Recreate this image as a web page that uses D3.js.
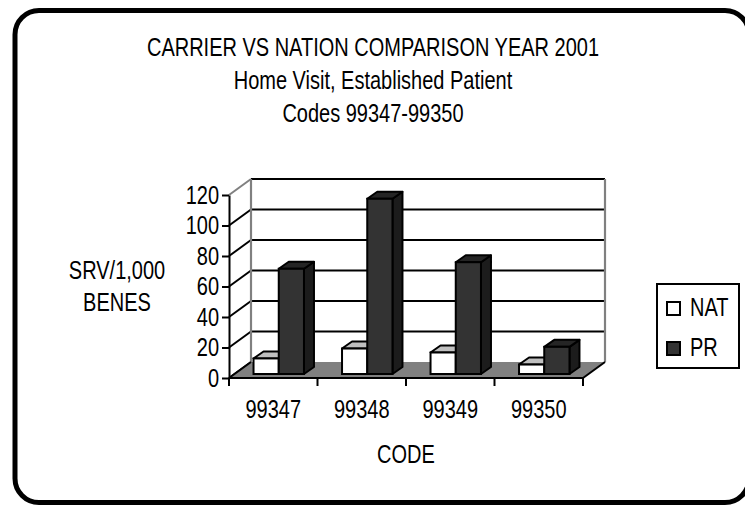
<!DOCTYPE html>
<html>
<head>
<meta charset="utf-8">
<script src="https://cdn.jsdelivr.net/npm/d3@7"></script>
<style>
  body { margin: 0; background: #fff; }
  svg { display: block; }
  text { font-family: "Liberation Sans", Arial, sans-serif; fill: #000; }
</style>
</head>
<body>
<svg id="chart" width="745" height="506"></svg>
<script>
// Chart data
const titleLines = ["CARRIER VS NATION COMPARISON YEAR 2001", "Home Visit, Established Patient", "Codes 99347-99350"];
const categories = ["99347", "99348", "99349", "99350"];
const seriesNames = ["NAT", "PR"];
const natValues = [10.2, 16.7, 14.1, 6.2];
const prValues = [69, 114.9, 73.3, 17.8];
const yTicks = [0, 20, 40, 60, 80, 100, 120];
const yAxisTitle = ["SRV/1,000", "BENES"];
const xAxisTitle = "CODE";

const seriesValues = { NAT: natValues, PR: prValues };
const seriesStyle = {
  NAT: { front: "#ffffff", top: "#c0c0c0", side: "#9a9a9a" },
  PR:  { front: "#333333", top: "#252525", side: "#1c1c1c" }
};

const FONT_SIZE = 25;
// condensed lettering: squeeze text horizontally around its own anchor
const SQUEEZE = 0.8;
function narrow(sel) {
  sel.each(function () {
    const t = d3.select(this);
    const x0 = +t.attr("x") || 0;
    t.attr("x", x0 / SQUEEZE).attr("transform", `scale(${SQUEEZE},1)`);
  });
}

const svg = d3.select("#chart");

// rounded outer frame
svg.append("rect")
  .attr("x", 15).attr("y", 10.5).attr("width", 734).attr("height", 492)
  .attr("rx", 24).attr("ry", 24)
  .attr("fill", "none").attr("stroke", "#000").attr("stroke-width", 5);

// titles
svg.append("g").selectAll("text").data(titleLines).join("text")
  .attr("x", 373).attr("y", (d, i) => 56 + i * 33)
  .attr("text-anchor", "middle").attr("font-size", FONT_SIZE)
  .text(d => d)
  .call(narrow);

// 3D plot geometry: front plane and depth offset to the back wall
const frontLeft = 229, frontRight = 583;
const depthX = 22, depthY = -16;
const x = d3.scaleBand().domain(categories).range([frontLeft, frontRight]);
const y = d3.scaleLinear().domain([0, 120]).range([378, 195]);
const bw = x.bandwidth();
const xs = d3.scaleBand().domain(seriesNames).range([0.215 * bw, 0.785 * bw]);

const plot = svg.append("g");

// back wall
const backL = frontLeft + depthX, backR = frontRight + depthX;
plot.append("rect")
  .attr("x", backL).attr("y", y(120) + depthY)
  .attr("width", backR - backL).attr("height", y(0) - y(120))
  .attr("fill", "#fff");

// back wall gridlines
plot.append("g").selectAll("line").data(yTicks.filter(t => t > 0)).join("line")
  .attr("x1", backL).attr("x2", backR)
  .attr("y1", d => y(d) + depthY).attr("y2", d => y(d) + depthY)
  .attr("stroke", "#000").attr("stroke-width", 2.2);

// side wall gridlines
plot.append("g").selectAll("line").data(yTicks).join("line")
  .attr("x1", frontLeft).attr("x2", backL)
  .attr("y1", d => y(d)).attr("y2", d => y(d) + depthY)
  .attr("stroke", d => d === 120 ? "#808080" : "#000").attr("stroke-width", 2);

// wall edges
plot.append("line")
  .attr("x1", backL).attr("x2", backL)
  .attr("y1", y(0) + depthY).attr("y2", y(120) + depthY)
  .attr("stroke", "#808080").attr("stroke-width", 2.2);
plot.append("line")
  .attr("x1", backR).attr("x2", backR)
  .attr("y1", y(0) + depthY).attr("y2", y(120) + depthY)
  .attr("stroke", "#808080").attr("stroke-width", 2.2);

// floor
const floorPts = [
  [frontLeft, y(0)], [frontRight, y(0)],
  [backR, y(0) + depthY], [backL, y(0) + depthY]
];
plot.append("polygon")
  .attr("points", floorPts.map(p => p.join(",")).join(" "))
  .attr("fill", "#808080");
plot.append("line")
  .attr("x1", frontRight).attr("y1", y(0))
  .attr("x2", backR).attr("y2", y(0) + depthY)
  .attr("stroke", "#000").attr("stroke-width", 2);
plot.append("line")
  .attr("x1", frontLeft).attr("y1", y(0))
  .attr("x2", backL).attr("y2", y(0) + depthY)
  .attr("stroke", "#000").attr("stroke-width", 2);

// bars: front plane sits a quarter of the way into the depth
const barShiftX = depthX * 0.25, barShiftY = depthY * 0.25;
const barDX = 10, barDY = -7;
const bars = [];
categories.forEach((c, i) => {
  seriesNames.forEach(s => {
    bars.push({ cat: c, series: s, value: seriesValues[s][i] });
  });
});

const pts = a => a.map(p => p.join(",")).join(" ");
const barG = plot.append("g").selectAll("g").data(bars).join("g");
barG.each(function (d) {
  const g = d3.select(this);
  const l = x(d.cat) + xs(d.series) + barShiftX;
  const r = l + xs.bandwidth();
  const b = y(0) + barShiftY;
  const t = y(d.value) + barShiftY;
  const st = seriesStyle[d.series];
  g.append("polygon")
    .attr("points", pts([[r, t], [r + barDX, t + barDY], [r + barDX, b + barDY], [r, b]]))
    .attr("fill", st.side).attr("stroke", "#000").attr("stroke-width", 2).attr("stroke-linejoin", "round");
  g.append("polygon")
    .attr("points", pts([[l, t], [r, t], [r + barDX, t + barDY], [l + barDX, t + barDY]]))
    .attr("fill", st.top).attr("stroke", "#000").attr("stroke-width", 2).attr("stroke-linejoin", "round");
  g.append("rect")
    .attr("x", l).attr("y", t).attr("width", r - l).attr("height", b - t)
    .attr("fill", st.front).attr("stroke", "#000").attr("stroke-width", 2);
});

// value axis
const yAxis = svg.append("g")
  .attr("transform", `translate(${frontLeft},0)`)
  .call(d3.axisLeft(y).tickValues(yTicks).tickSize(7).tickPadding(3).tickSizeOuter(0));
yAxis.attr("font-family", null);
yAxis.select(".domain").attr("stroke", "#000").attr("stroke-width", 2);
yAxis.selectAll(".tick line").attr("stroke", "#000").attr("stroke-width", 2);
yAxis.selectAll(".tick text").attr("font-size", FONT_SIZE).attr("fill", "#000").call(narrow);

// category axis
svg.append("line")
  .attr("x1", frontLeft).attr("x2", frontRight)
  .attr("y1", y(0)).attr("y2", y(0))
  .attr("stroke", "#000").attr("stroke-width", 2);
const boundaries = categories.map(c => x(c)).concat([frontRight]);
svg.append("g").selectAll("line").data(boundaries).join("line")
  .attr("x1", d => d).attr("x2", d => d)
  .attr("y1", y(0)).attr("y2", y(0) + 8)
  .attr("stroke", "#000").attr("stroke-width", 2);
const xAxis = svg.append("g")
  .attr("transform", `translate(0,${y(0)})`)
  .call(d3.axisBottom(x).tickSize(0).tickPadding(22));
xAxis.select(".domain").remove();
xAxis.attr("font-family", null);
xAxis.selectAll(".tick text").attr("font-size", FONT_SIZE).attr("fill", "#000").call(narrow);

// axis titles
svg.append("g").selectAll("text").data(yAxisTitle).join("text")
  .attr("x", 117).attr("y", (d, i) => 279 + i * 32)
  .attr("text-anchor", "middle").attr("font-size", FONT_SIZE)
  .text(d => d)
  .call(narrow);
svg.append("text")
  .attr("x", 406).attr("y", 463)
  .attr("text-anchor", "middle").attr("font-size", FONT_SIZE)
  .text(xAxisTitle)
  .call(narrow);

// legend
const legend = svg.append("g");
legend.append("rect")
  .attr("x", 657).attr("y", 284).attr("width", 82).attr("height", 84)
  .attr("fill", "#fff").attr("stroke", "#000").attr("stroke-width", 2);
const items = legend.selectAll("g.item").data(seriesNames).join("g")
  .attr("class", "item")
  .attr("transform", (d, i) => `translate(667,${302 + i * 40})`);
items.append("rect")
  .attr("width", 13).attr("height", 13)
  .attr("fill", d => seriesStyle[d].front)
  .attr("stroke", "#000").attr("stroke-width", 2);
items.append("text")
  .attr("x", 23).attr("y", 14)
  .attr("font-size", FONT_SIZE)
  .text(d => d)
  .call(narrow);
</script>
</body>
</html>
